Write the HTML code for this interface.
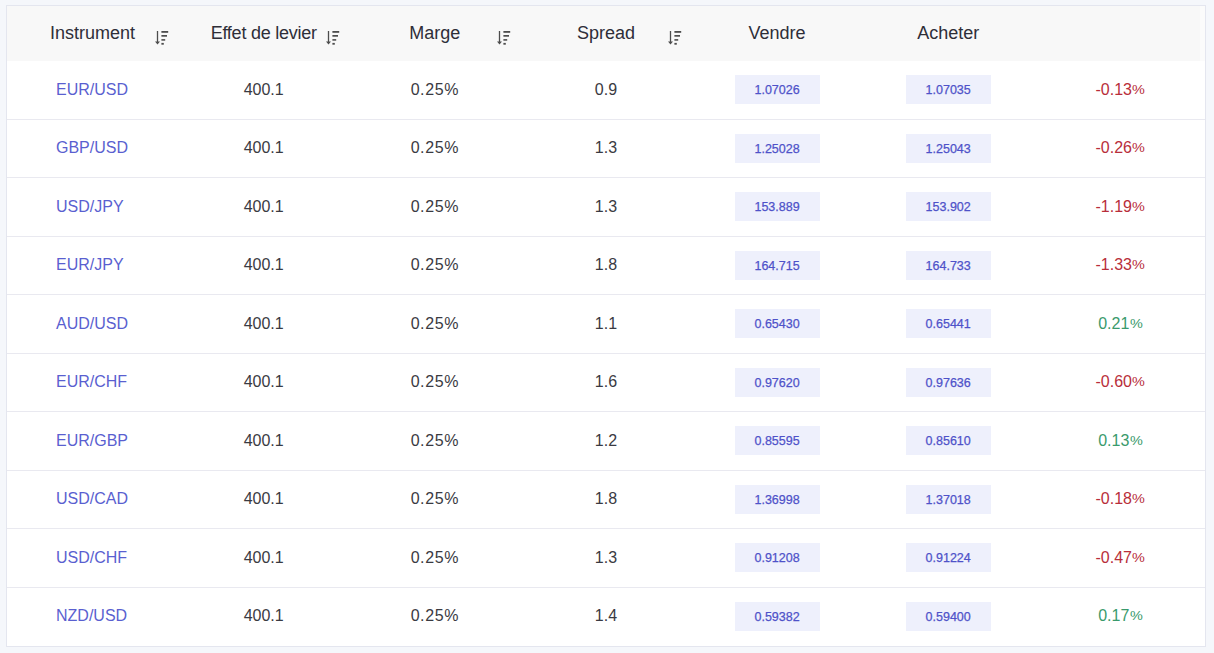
<!DOCTYPE html><html><head><meta charset="utf-8"><style>
*{box-sizing:border-box;margin:0;padding:0}
html,body{width:1214px;height:653px;overflow:hidden}
body{background:#f5f7fb;font-family:"Liberation Sans",sans-serif;position:relative}
.box{position:absolute;left:6px;top:5px;width:1200px;height:642px;border:1px solid #e4e6ef;background:#fff}
.hdr{position:absolute;left:7px;top:6px;width:1198px;height:55px;background:linear-gradient(to right,#f8f8f8 1193px,#fbfbfb 1193px)}
.row{position:absolute;left:7px;width:1198px;display:flex}
.sep{position:absolute;left:7px;width:1198px;height:1px;background:#e9e9f0}
.c{position:relative;width:171.14px;flex:none;display:flex;align-items:center;justify-content:center}
.hdr .c{height:55px;font-size:18px;color:#2e2e38}
.hdr .c span{position:relative;top:0px}
.ic{position:absolute;left:148px;top:24px}
.r .c{font-size:16px;line-height:18px;color:#3a3a42;align-items:flex-start}
.r .c.inst{color:#5a5fd0;justify-content:flex-start;padding-left:49px}
.pb{width:85px;height:29px;line-height:normal;background:#eef0fc;display:flex;align-items:center;justify-content:center;font-size:12.5px;-webkit-text-stroke:0.25px #4e52c9;color:#4e52c9}
.r .c.neg{color:#b82e3a}
.r .c.pos{color:#3a9a6c}
.pct{font-size:12px;display:inline-block;transform:scaleX(1.2);margin-left:1.5px;margin-right:-1px;vertical-align:-1px}
</style></head><body>
<div class="box"></div>
<div class="hdr row">
<div class="c"><span>Instrument</span><svg class="ic" width="15" height="16" viewBox="0 0 15 16"><rect x="1.85" y="1" width="1.3" height="11.5" fill="#4d4d4d"/><path d="M0 11.6L5 11.6L2.5 14.6Z" fill="#4d4d4d"/><rect x="6.4" y="1" width="6.8" height="1.8" fill="#4d4d4d"/><rect x="6.4" y="5" width="5.6" height="1.7" fill="#4d4d4d"/><rect x="6.4" y="9.1" width="3.8" height="1.6" fill="#4d4d4d"/><rect x="6.4" y="12.9" width="2.4" height="1.8" fill="#4d4d4d"/></svg></div>
<div class="c"><span style="letter-spacing:-0.25px">Effet de levier</span><svg class="ic" width="15" height="16" viewBox="0 0 15 16"><rect x="1.85" y="1" width="1.3" height="11.5" fill="#4d4d4d"/><path d="M0 11.6L5 11.6L2.5 14.6Z" fill="#4d4d4d"/><rect x="6.4" y="1" width="6.8" height="1.8" fill="#4d4d4d"/><rect x="6.4" y="5" width="5.6" height="1.7" fill="#4d4d4d"/><rect x="6.4" y="9.1" width="3.8" height="1.6" fill="#4d4d4d"/><rect x="6.4" y="12.9" width="2.4" height="1.8" fill="#4d4d4d"/></svg></div>
<div class="c"><span>Marge</span><svg class="ic" width="15" height="16" viewBox="0 0 15 16"><rect x="1.85" y="1" width="1.3" height="11.5" fill="#4d4d4d"/><path d="M0 11.6L5 11.6L2.5 14.6Z" fill="#4d4d4d"/><rect x="6.4" y="1" width="6.8" height="1.8" fill="#4d4d4d"/><rect x="6.4" y="5" width="5.6" height="1.7" fill="#4d4d4d"/><rect x="6.4" y="9.1" width="3.8" height="1.6" fill="#4d4d4d"/><rect x="6.4" y="12.9" width="2.4" height="1.8" fill="#4d4d4d"/></svg></div>
<div class="c"><span>Spread</span><svg class="ic" width="15" height="16" viewBox="0 0 15 16"><rect x="1.85" y="1" width="1.3" height="11.5" fill="#4d4d4d"/><path d="M0 11.6L5 11.6L2.5 14.6Z" fill="#4d4d4d"/><rect x="6.4" y="1" width="6.8" height="1.8" fill="#4d4d4d"/><rect x="6.4" y="5" width="5.6" height="1.7" fill="#4d4d4d"/><rect x="6.4" y="9.1" width="3.8" height="1.6" fill="#4d4d4d"/><rect x="6.4" y="12.9" width="2.4" height="1.8" fill="#4d4d4d"/></svg></div>
<div class="c"><span>Vendre</span></div>
<div class="c"><span>Acheter</span></div>
<div class="c"><span></span></div>
</div>
<div class="row r" style="top:61px;height:58px">
<div class="c inst" style="padding-top:20px">EUR/USD</div>
<div class="c" style="padding-top:20px">400.1</div>
<div class="c" style="padding-top:20px;letter-spacing:0.6px">0.25%</div>
<div class="c" style="padding-top:20px">0.9</div>
<div class="c" style="padding-top:14px"><div class="pb">1.07026</div></div>
<div class="c" style="padding-top:14px"><div class="pb">1.07035</div></div>
<div class="c neg" style="padding-top:20px">-0.13<span class="pct">%</span></div>
</div>
<div class="sep" style="top:119px"></div>
<div class="row r" style="top:120px;height:57px">
<div class="c inst" style="padding-top:19px">GBP/USD</div>
<div class="c" style="padding-top:19px">400.1</div>
<div class="c" style="padding-top:19px;letter-spacing:0.6px">0.25%</div>
<div class="c" style="padding-top:19px">1.3</div>
<div class="c" style="padding-top:14px"><div class="pb">1.25028</div></div>
<div class="c" style="padding-top:14px"><div class="pb">1.25043</div></div>
<div class="c neg" style="padding-top:19px">-0.26<span class="pct">%</span></div>
</div>
<div class="sep" style="top:177px"></div>
<div class="row r" style="top:178px;height:58px">
<div class="c inst" style="padding-top:20px">USD/JPY</div>
<div class="c" style="padding-top:20px">400.1</div>
<div class="c" style="padding-top:20px;letter-spacing:0.6px">0.25%</div>
<div class="c" style="padding-top:20px">1.3</div>
<div class="c" style="padding-top:14px"><div class="pb">153.889</div></div>
<div class="c" style="padding-top:14px"><div class="pb">153.902</div></div>
<div class="c neg" style="padding-top:20px">-1.19<span class="pct">%</span></div>
</div>
<div class="sep" style="top:236px"></div>
<div class="row r" style="top:237px;height:57px">
<div class="c inst" style="padding-top:19px">EUR/JPY</div>
<div class="c" style="padding-top:19px">400.1</div>
<div class="c" style="padding-top:19px;letter-spacing:0.6px">0.25%</div>
<div class="c" style="padding-top:19px">1.8</div>
<div class="c" style="padding-top:14px"><div class="pb">164.715</div></div>
<div class="c" style="padding-top:14px"><div class="pb">164.733</div></div>
<div class="c neg" style="padding-top:19px">-1.33<span class="pct">%</span></div>
</div>
<div class="sep" style="top:294px"></div>
<div class="row r" style="top:295px;height:58px">
<div class="c inst" style="padding-top:20px">AUD/USD</div>
<div class="c" style="padding-top:20px">400.1</div>
<div class="c" style="padding-top:20px;letter-spacing:0.6px">0.25%</div>
<div class="c" style="padding-top:20px">1.1</div>
<div class="c" style="padding-top:14px"><div class="pb">0.65430</div></div>
<div class="c" style="padding-top:14px"><div class="pb">0.65441</div></div>
<div class="c pos" style="padding-top:20px">0.21<span class="pct">%</span></div>
</div>
<div class="sep" style="top:353px"></div>
<div class="row r" style="top:354px;height:57px">
<div class="c inst" style="padding-top:19px">EUR/CHF</div>
<div class="c" style="padding-top:19px">400.1</div>
<div class="c" style="padding-top:19px;letter-spacing:0.6px">0.25%</div>
<div class="c" style="padding-top:19px">1.6</div>
<div class="c" style="padding-top:14px"><div class="pb">0.97620</div></div>
<div class="c" style="padding-top:14px"><div class="pb">0.97636</div></div>
<div class="c neg" style="padding-top:19px">-0.60<span class="pct">%</span></div>
</div>
<div class="sep" style="top:411px"></div>
<div class="row r" style="top:412px;height:58px">
<div class="c inst" style="padding-top:20px">EUR/GBP</div>
<div class="c" style="padding-top:20px">400.1</div>
<div class="c" style="padding-top:20px;letter-spacing:0.6px">0.25%</div>
<div class="c" style="padding-top:20px">1.2</div>
<div class="c" style="padding-top:14px"><div class="pb">0.85595</div></div>
<div class="c" style="padding-top:14px"><div class="pb">0.85610</div></div>
<div class="c pos" style="padding-top:20px">0.13<span class="pct">%</span></div>
</div>
<div class="sep" style="top:470px"></div>
<div class="row r" style="top:471px;height:57px">
<div class="c inst" style="padding-top:19px">USD/CAD</div>
<div class="c" style="padding-top:19px">400.1</div>
<div class="c" style="padding-top:19px;letter-spacing:0.6px">0.25%</div>
<div class="c" style="padding-top:19px">1.8</div>
<div class="c" style="padding-top:14px"><div class="pb">1.36998</div></div>
<div class="c" style="padding-top:14px"><div class="pb">1.37018</div></div>
<div class="c neg" style="padding-top:19px">-0.18<span class="pct">%</span></div>
</div>
<div class="sep" style="top:528px"></div>
<div class="row r" style="top:529px;height:58px">
<div class="c inst" style="padding-top:20px">USD/CHF</div>
<div class="c" style="padding-top:20px">400.1</div>
<div class="c" style="padding-top:20px;letter-spacing:0.6px">0.25%</div>
<div class="c" style="padding-top:20px">1.3</div>
<div class="c" style="padding-top:14px"><div class="pb">0.91208</div></div>
<div class="c" style="padding-top:14px"><div class="pb">0.91224</div></div>
<div class="c neg" style="padding-top:20px">-0.47<span class="pct">%</span></div>
</div>
<div class="sep" style="top:587px"></div>
<div class="row r" style="top:588px;height:57px">
<div class="c inst" style="padding-top:19px">NZD/USD</div>
<div class="c" style="padding-top:19px">400.1</div>
<div class="c" style="padding-top:19px;letter-spacing:0.6px">0.25%</div>
<div class="c" style="padding-top:19px">1.4</div>
<div class="c" style="padding-top:14px"><div class="pb">0.59382</div></div>
<div class="c" style="padding-top:14px"><div class="pb">0.59400</div></div>
<div class="c pos" style="padding-top:19px">0.17<span class="pct">%</span></div>
</div>
</body></html>
